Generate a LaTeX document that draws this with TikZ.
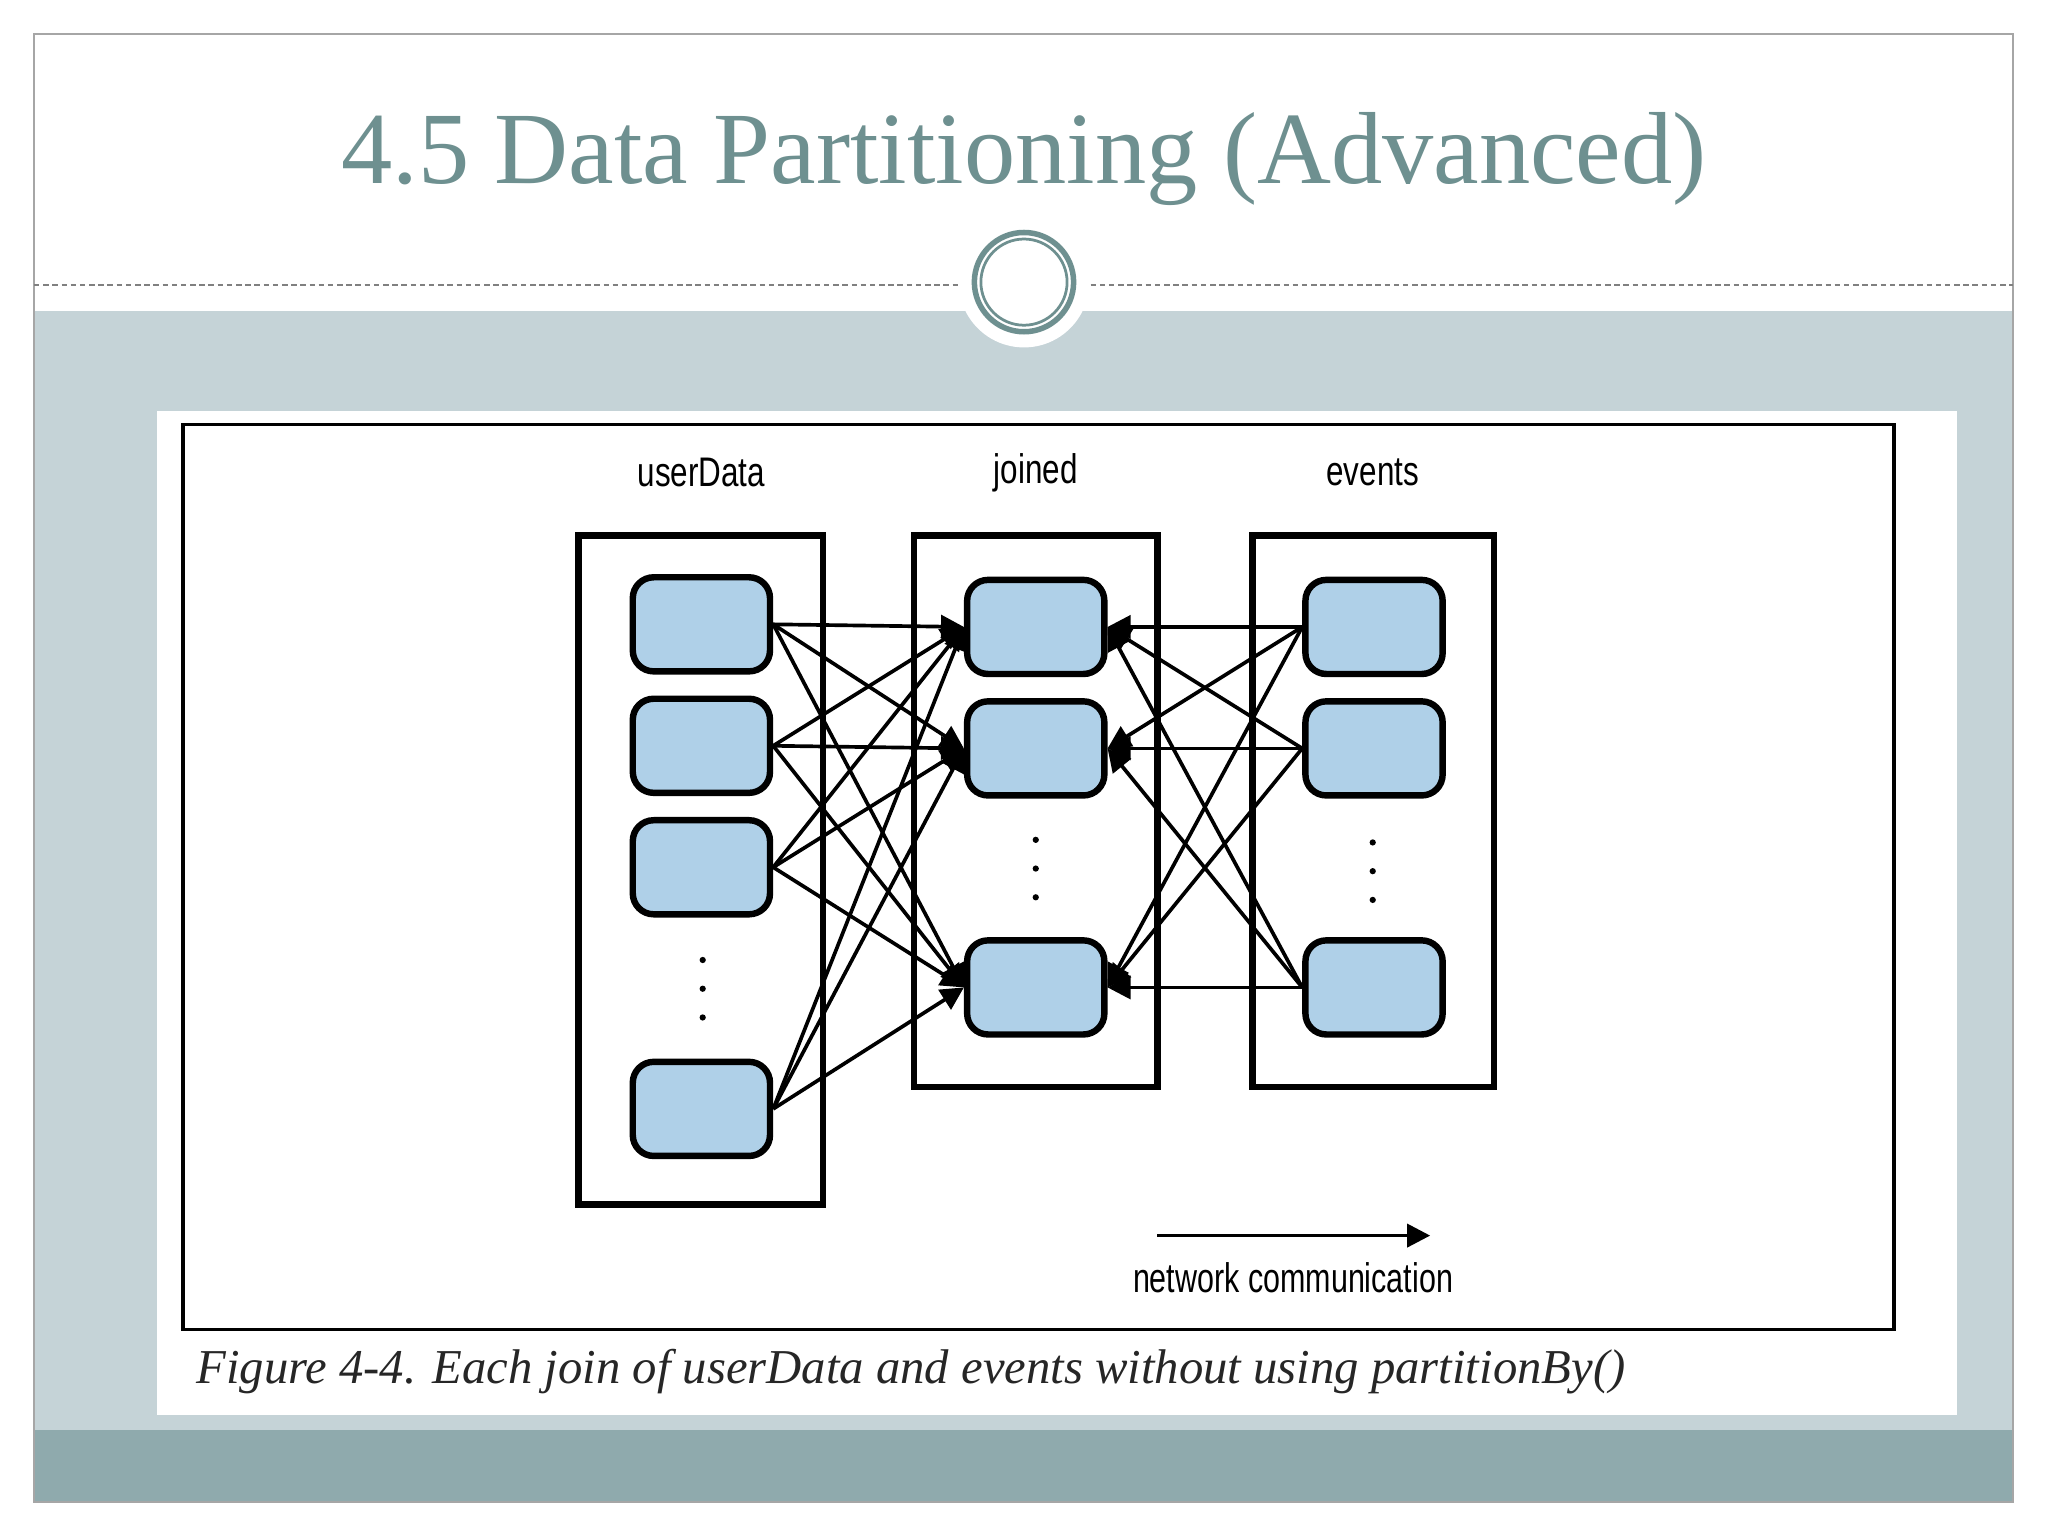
\documentclass[tikz,border=0pt]{standalone}
\usepackage{fontspec}
\setmainfont{Liberation Serif}
\newfontfamily\lab{Liberation Sans}
\usetikzlibrary{arrows.meta}
\definecolor{band}{HTML}{C5D3D7}
\definecolor{dark}{HTML}{8FAAAD}
\definecolor{teal}{HTML}{6E9090}
\definecolor{cell}{HTML}{AFD0E8}
\begin{document}
\begin{tikzpicture}[x=0.01cm,y=-0.01cm,
  part/.style={draw,line width=1.4pt,fill=cell,rounded corners=0.16cm,minimum width=1.05cm,minimum height=0.72cm},
  col/.style={draw,line width=1.4pt},
  lbl/.style={font=\lab\fontsize{9}{10}\selectfont,xscale=0.76},
  net/.style={line width=0.8pt,-{Triangle[length=5pt,width=5pt]}}]
\useasboundingbox (0,0) rectangle (1568,1176);
\fill[white] (0,0) rectangle (1568,1176);
\fill[band] (26,238) rectangle (1541,1095);
\fill[dark] (26,1095) rectangle (1541,1150);
\draw[gray!70] (26,26) rectangle (1541,1150);
\draw[gray,dash pattern=on 1.2pt off 0.8pt,line width=0.4pt] (26,218) -- (735,218) (835,218) -- (1541,218);
\fill[white] (784,216) circle (50);
\draw[teal,line width=1.2pt] (784,216) circle (38);
\draw[teal,line width=0.6pt] (784,216) circle (33);
\node[teal,font=\fontsize{22.3}{26}\selectfont] (title) at (784,122) {4.5 Data Partitioning (Advanced)};
\fill[white] (120,315) rectangle (1498,1083);
\draw[line width=0.8pt] (140,325) rectangle (1450,1018);
\node[col,minimum width=1.87cm,minimum height=5.12cm] (U) at (536.5,666) {};
\node[col,minimum width=1.86cm,minimum height=4.22cm] (J) at (793,621) {};
\node[col,minimum width=1.85cm,minimum height=4.22cm] (E) at (1051.5,621) {};
\node[lbl] (lu) at (537,362) {userData};
\node[lbl] (lj) at (793,362) {joined};
\node[lbl] (le) at (1051,362) {events};
\foreach \n/\y in {1/478,2/571,3/664,4/849} \node[part] (u\n) at (537,\y) {};
\foreach \n/\y in {1/480,2/573,3/756} {\node[part] (j\n) at (793,\y) {}; \node[part] (e\n) at (1052,\y) {};}
\foreach \x/\y in {538/735,793/643,1051/645} \foreach \k in {0,1,2} \fill (\x,\y+\k*22) circle (2.4);
\foreach \a in {1,2,3,4} \foreach \b in {1,2,3} \draw[net] (u\a.east) -- (j\b.west);
\foreach \a in {1,2,3} \foreach \b in {1,2,3} \draw[net] (e\a.west) -- (j\b.east);
\coordinate (ls) at (886,946); \coordinate (le2) at (1095,946);
\draw[net] (ls) -- (le2);
\node[lbl,xscale=0.97] (ln) at (990,978) {network communication};
\node[anchor=west,font=\itshape\fontsize{10.6}{12}\selectfont,text=black!85] (cap) at (138,1050) {Figure 4-4. Each join of userData and events without using partitionBy()};
\end{tikzpicture}
\end{document}
